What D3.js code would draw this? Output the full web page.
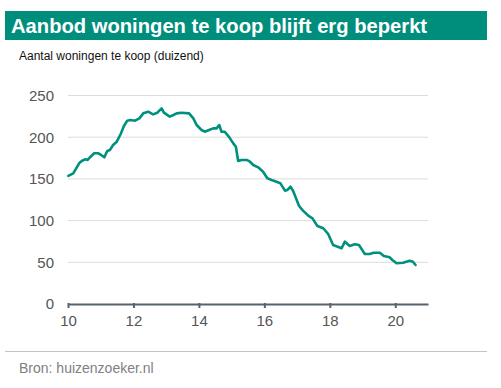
<!DOCTYPE html>
<html><head><meta charset="utf-8">
<script src="https://cdn.jsdelivr.net/npm/d3@7"></script>
<style>body{margin:0;background:#fff}svg{display:block}</style>
</head><body><svg id="c" width="501" height="388"></svg>
<script>
const title = "Aanbod woningen te koop blijft erg beperkt";
const subtitle = "Aantal woningen te koop (duizend)";
const source = "Bron: huizenzoeker.nl";
const xTicks = [10, 12, 14, 16, 18, 20];
const yTicks = [0, 50, 100, 150, 200, 250];
const years = [10.01,10.16,10.34,10.42,10.52,10.60,10.69,10.80,10.93,11.01,11.11,11.20,11.28,11.38,11.49,11.61,11.71,11.81,11.91,12.05,12.18,12.30,12.45,12.60,12.73,12.86,12.93,13.11,13.22,13.32,13.47,13.70,13.83,13.93,14.08,14.18,14.31,14.44,14.54,14.62,14.69,14.79,14.93,15.05,15.13,15.20,15.30,15.46,15.56,15.66,15.81,15.96,16.09,16.22,16.37,16.49,16.63,16.70,16.80,16.88,17.06,17.18,17.34,17.47,17.62,17.80,17.95,18.10,18.24,18.36,18.46,18.61,18.76,18.89,19.07,19.22,19.34,19.53,19.65,19.83,19.91,20.04,20.24,20.44,20.54,20.62];
const values = [153.5,156.7,168.7,171.5,173.5,172.7,176.6,180.7,180.7,178.7,175.9,183.5,184.6,190.6,194.6,203.8,213.4,219.8,220.6,219.8,222.6,228.6,230.6,227.4,229.4,234.6,229.4,224.6,226.6,228.6,229.4,228.6,222.6,214.6,208.6,206.6,208.6,210.6,210.6,214.6,206.6,206.6,199.8,192.6,188.6,171.5,172.7,172.7,170.6,166.7,163.9,158.6,150.7,148.7,146.6,144.7,135.9,136.7,140.6,135.5,117.5,111.9,105.9,102.7,93.5,90.8,83.9,70.7,68.7,66.8,74.7,69.5,71.6,70.7,60,60,61.5,61.5,57.6,56,52.8,48.8,49.5,51.9,50.7,46.8];

const svg = d3.select("#c");
const font = "Liberation Sans, Arial, sans-serif";

svg.append("rect").attr("x",5).attr("y",11).attr("width",482).attr("height",29).attr("fill","#008e7c");
svg.append("text").attr("x",11).attr("y",33).attr("fill","#fff").attr("font-family",font)
  .attr("font-weight","bold").attr("font-size",20.2).text(title);
svg.append("text").attr("x",19).attr("y",59.5).attr("fill","#111").attr("font-family",font)
  .attr("font-size",12).text(subtitle);

const x = d3.scaleLinear().domain([10,21]).range([68,428]);
const y = d3.scaleLinear().domain([0,250]).range([304,95.5]);

svg.append("g").selectAll("line").data(yTicks.filter(d=>d>0)).join("line")
  .attr("x1",68).attr("x2",428).attr("y1",d=>y(d)).attr("y2",d=>y(d))
  .attr("stroke","#dcdcdc").attr("stroke-width",1);

svg.append("g").selectAll("text").data(yTicks).join("text")
  .attr("x",54).attr("y",d=>y(d)).attr("dy","0.36em").attr("text-anchor","end")
  .attr("font-family",font).attr("font-size",15).attr("fill","#555").text(d=>d);

const xa = svg.append("g").attr("transform","translate(0,304)")
  .call(d3.axisBottom(x).tickValues(xTicks).tickSize(4).tickSizeOuter(0).tickPadding(7));
xa.select(".domain").attr("stroke","#56636b").attr("stroke-width",2);
xa.selectAll(".tick line").attr("stroke","#56636b").attr("stroke-width",2).attr("y1",-1);
xa.selectAll(".tick text").attr("font-family",font).attr("font-size",15).attr("fill","#555");

const pts = years.map((t,i)=>[t,values[i]]);
svg.append("path").datum(pts).attr("fill","none").attr("stroke","#00907e")
  .attr("stroke-width",2.6).attr("stroke-linejoin","round").attr("stroke-linecap","round")
  .attr("d", d3.line().x(d=>x(d[0])).y(d=>y(d[1])));

svg.append("line").attr("x1",5).attr("x2",487).attr("y1",351.5).attr("y2",351.5)
  .attr("stroke","#c4c4c4").attr("stroke-width",1);
svg.append("text").attr("x",19).attr("y",373).attr("fill","#808080").attr("font-family",font)
  .attr("font-size",14).text(source);
</script></body></html>
